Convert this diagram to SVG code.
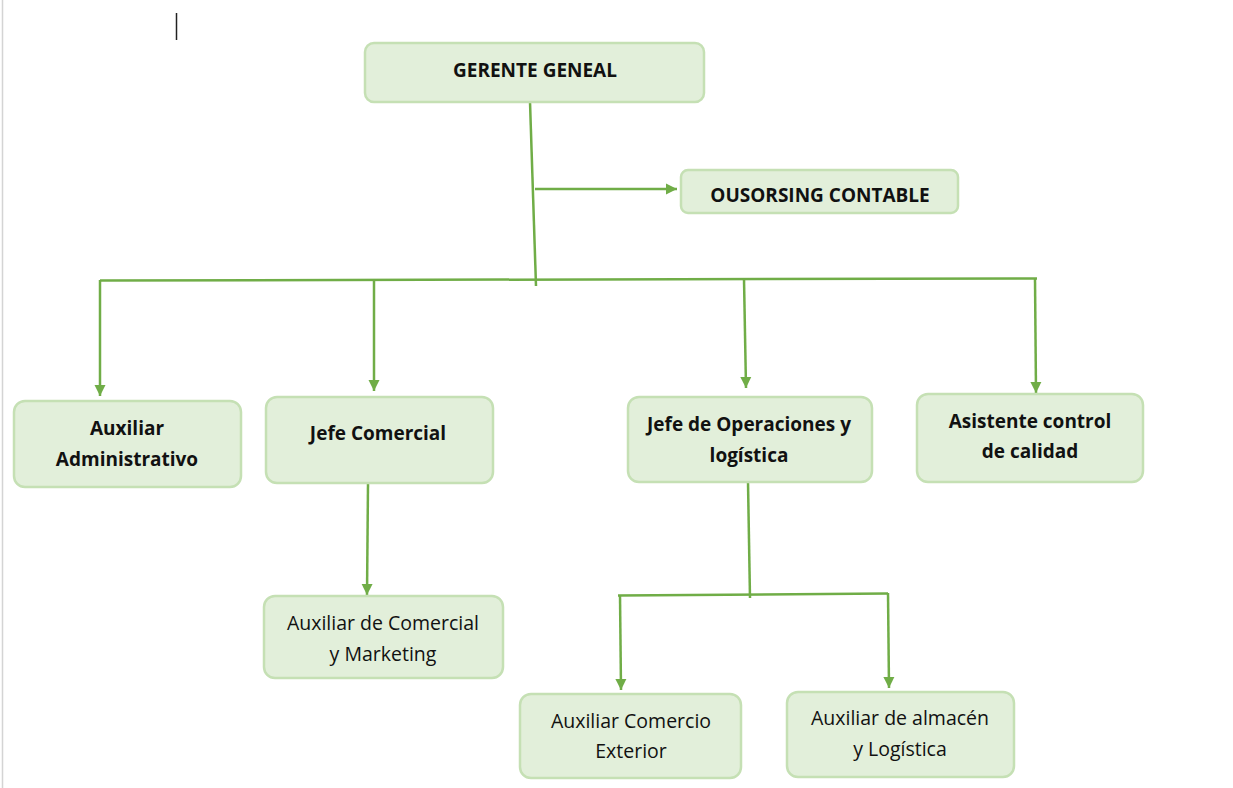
<svg xmlns="http://www.w3.org/2000/svg" width="1233" height="788" viewBox="0 0 1233 788">
<defs>
<style>
.box{fill:#E2EFDA;stroke:#C5E0B4;stroke-width:2.5}
.t{font-family:"Open Sans","Liberation Sans",sans-serif;font-size:19.5px;fill:#111;text-anchor:middle}
.b{font-weight:bold;font-size:19px}
.c{fill:none;stroke:#70AD47;stroke-width:2.5}
</style>
<marker id="ah" markerUnits="userSpaceOnUse" markerWidth="12" markerHeight="12" viewBox="0 0 12 12" refX="11" refY="6" orient="auto">
<path d="M0,0.5 L11,6 L0,11.5 Z" fill="#70AD47"/>
</marker>
</defs>
<rect width="1233" height="788" fill="#fff"/>
<line x1="2.5" y1="0" x2="2.5" y2="788" stroke="#d4d4d4" stroke-width="1.5"/>
<line x1="176.5" y1="13" x2="176.5" y2="40" stroke="#222" stroke-width="1.5"/>

<g id="connectors">
<path class="c" d="M530,102 L536,286"/>
<path class="c" d="M535,189 L677,189" marker-end="url(#ah)"/>
<path class="c" d="M100,280.5 L1037,278.5"/>
<path class="c" d="M100,280 L100,396" marker-end="url(#ah)"/>
<path class="c" d="M374,280 L374,391" marker-end="url(#ah)"/>
<path class="c" d="M744,279 L746,388" marker-end="url(#ah)"/>
<path class="c" d="M1035,279 L1036,393" marker-end="url(#ah)"/>
<path class="c" d="M368,484 L367,595" marker-end="url(#ah)"/>
<path class="c" d="M748,482 L750,598"/>
<path class="c" d="M618,595.5 L888,593.5"/>
<path class="c" d="M620,595 L621,690" marker-end="url(#ah)"/>
<path class="c" d="M888,593 L889,688" marker-end="url(#ah)"/>
</g>

<g id="gerente">
<rect class="box" x="365" y="43" width="339" height="59" rx="9"/>
<text class="t b" x="535" y="77">GERENTE GENEAL</text>
</g>
<g id="ousorsing">
<rect class="box" x="681" y="170" width="277" height="43" rx="7"/>
<text class="t b" x="820" y="202">OUSORSING CONTABLE</text>
</g>
<g id="aux-admin">
<rect class="box" x="14" y="401" width="227" height="86" rx="11"/>
<text class="t b" x="127" y="435">Auxiliar</text>
<text class="t b" x="127" y="466">Administrativo</text>
</g>
<g id="jefe-comercial">
<rect class="box" x="266" y="397" width="227" height="86" rx="11"/>
<text class="t b" x="378" y="440">Jefe Comercial</text>
</g>
<g id="jefe-operaciones">
<rect class="box" x="628" y="397" width="244" height="85" rx="11"/>
<text class="t b" x="749" y="431">Jefe de Operaciones y</text>
<text class="t b" x="749" y="462">logística</text>
</g>
<g id="asistente">
<rect class="box" x="917" y="394" width="226" height="88" rx="11"/>
<text class="t b" x="1030" y="428">Asistente control</text>
<text class="t b" x="1030" y="458">de calidad</text>
</g>
<g id="aux-comercial">
<rect class="box" x="264" y="596" width="239" height="82" rx="11"/>
<text class="t" x="383" y="630">Auxiliar de Comercial</text>
<text class="t" x="383" y="661">y Marketing</text>
</g>
<g id="aux-comercio-ext">
<rect class="box" x="520" y="694" width="221" height="84" rx="11"/>
<text class="t" x="631" y="728">Auxiliar Comercio</text>
<text class="t" x="631" y="758">Exterior</text>
</g>
<g id="aux-almacen">
<rect class="box" x="787" y="692" width="227" height="85" rx="11"/>
<text class="t" x="900" y="725">Auxiliar de almacén</text>
<text class="t" x="900" y="756">y Logística</text>
</g>
</svg>
